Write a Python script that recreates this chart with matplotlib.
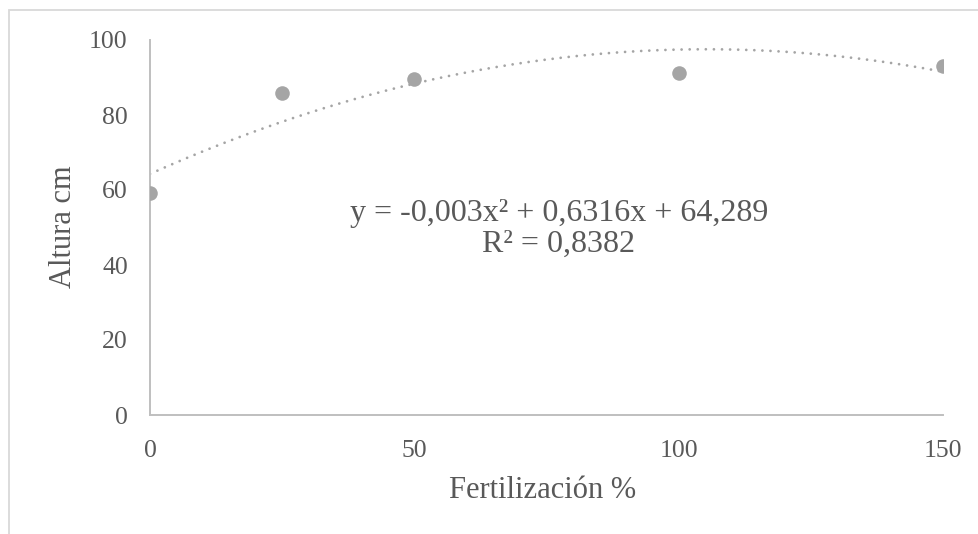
import numpy as np
import matplotlib
matplotlib.use("Agg")
import matplotlib.pyplot as plt
from matplotlib.patches import Rectangle

# datos
fert = [0, 25, 50, 100, 150]
altura = [59.2, 85.8, 89.5, 91.1, 93.1]
# coeficientes de la línea de tendencia (polinómica, grado 2)
coef = [-0.003, 0.6316, 64.289]
eq_text = "y = -0,003x² + 0,6316x + 64,289\nR² = 0,8382"

gris = "#A5A5A5"
texto = "#595959"

plt.rcParams["font.family"] = ["Liberation Serif", "DejaVu Serif"]

fig = plt.figure(figsize=(9.79, 5.34), dpi=100)
W, H = 979, 534
ax = fig.add_axes([150 / W, (H - 415) / H, (943 - 150) / W, (415 - 40) / H])

# marco exterior del gráfico
fig.patches.append(Rectangle((9 / W, -0.5), 2, 1.5 - 10 / H, transform=fig.transFigure,
                             fill=False, ec="#D9D9D9", lw=1.3))

ax.scatter(fert, altura, s=110, color=gris, zorder=3, linewidths=0)

xs = np.linspace(min(fert), max(fert), 300)
ax.plot(xs, np.polyval(coef, xs), color=gris, lw=2.0,
        linestyle=(0, (0.01, 2.9)), dash_capstyle="round", zorder=2)

ax.set_xlim(0, 150)
ax.set_ylim(0, 100)
ax.set_xticks([0, 50, 100, 150])
ax.set_yticks([0, 20, 40, 60, 80, 100])
ax.tick_params(axis="both", length=0, labelsize=18.5, labelcolor=texto)
ax.tick_params(axis="x", pad=18)
ax.tick_params(axis="y", pad=16)

for s in ["top", "right"]:
    ax.spines[s].set_visible(False)
for s in ["left", "bottom"]:
    ax.spines[s].set_color("#BFBFBF")
    ax.spines[s].set_linewidth(1.4)

ax.set_xlabel("Fertilización %", fontsize=22, color=texto, va="center")
ax.set_ylabel("Altura cm", fontsize=22, color=texto, va="center")
ax.xaxis.set_label_coords((543 - 150) / 793, (415 - 490) / 375)
ax.yaxis.set_label_coords((63 - 150) / 793, (415 - 227) / 375)

ax.text((559 - 150) / 793, (415 - 229) / 375, eq_text, transform=ax.transAxes,
        ha="center", va="center", multialignment="center", fontsize=23,
        color=texto, linespacing=1.08)

fig.savefig("out.png", dpi=100)
